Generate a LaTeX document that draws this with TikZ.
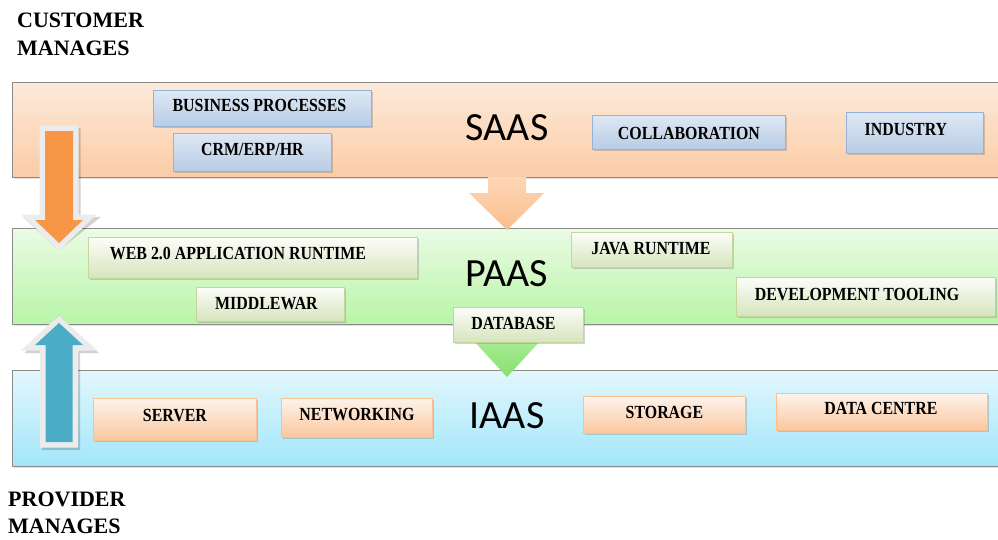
\documentclass[tikz,border=0pt]{standalone}
\usepackage{fontspec}
\setmainfont{Liberation Serif}
\newfontfamily\layerfont{Carlito}
\newfontfamily\boxfont[FakeStretch=0.86]{Liberation Serif}
\usetikzlibrary{shadows}

% layer band colours
\definecolor{saasTop}{RGB}{253,234,218}
\definecolor{saasBot}{RGB}{251,204,166}
\definecolor{paasTop}{RGB}{234,251,228}
\definecolor{paasBot}{RGB}{184,245,168}
\definecolor{iaasTop}{RGB}{226,247,253}
\definecolor{iaasBot}{RGB}{162,230,250}
% component box colours
\definecolor{blueTop}{RGB}{222,232,244}
\definecolor{blueBot}{RGB}{184,204,228}
\definecolor{blueEdge}{RGB}{149,179,215}
\definecolor{greenTop}{RGB}{252,253,248}
\definecolor{greenBot}{RGB}{214,228,188}
\definecolor{greenEdge}{RGB}{195,214,155}
\definecolor{peachTop}{RGB}{254,243,234}
\definecolor{peachBot}{RGB}{250,199,158}
\definecolor{peachEdge}{RGB}{250,192,144}
% block arrows
\definecolor{orangeArrow}{RGB}{247,150,70}
\definecolor{blueArrow}{RGB}{75,172,198}
\definecolor{flowTop}{RGB}{253,214,182}
\definecolor{flowBot}{RGB}{250,190,140}
\definecolor{dbTop}{RGB}{170,236,150}
\definecolor{dbBot}{RGB}{134,224,110}
\definecolor{rim}{RGB}{236,236,236}

\tikzset{
  band/.style={draw=black!45, line width=0.8pt, shading=axis, anchor=north west,
    inner sep=0pt, drop shadow={shadow xshift=1.5pt, shadow yshift=-1.5pt, opacity=0.25}},
  comp/.style={line width=0.9pt, shading=axis, anchor=north west, inner sep=0pt,
    drop shadow={shadow xshift=2pt, shadow yshift=-2pt, opacity=0.35}},
  sbox/.style={comp, draw=blueEdge, top color=blueTop, bottom color=blueBot},
  pbox/.style={comp, draw=greenEdge, top color=greenTop, bottom color=greenBot},
  ibox/.style={comp, draw=peachEdge, top color=peachTop, bottom color=peachBot},
  lbl/.style={font=\boxfont\fontsize{18.5}{20}\selectfont\bfseries, inner sep=0pt},
  layer/.style={font=\layerfont\fontsize{40}{44}\selectfont, inner sep=0pt},
  side/.style={font=\fontsize{22}{28}\selectfont\bfseries, inner sep=0pt, anchor=base west},
}

\begin{document}
\begin{tikzpicture}[x=1pt, y=-1pt]
\clip (0,0) rectangle (998,539);
\fill[white] (0,0) rectangle (998,539);

% ---- layer bands ----
\node[band, top color=saasTop, bottom color=saasBot, minimum width=995pt, minimum height=95pt] (saas) at (12,82) {};
\node[band, top color=paasTop, bottom color=paasBot, minimum width=995pt, minimum height=96pt] (paas) at (12,228) {};
\node[band, top color=iaasTop, bottom color=iaasBot, minimum width=995pt, minimum height=96pt] (iaas) at (12,370) {};

% ---- side captions ----
\node[side] (cust1) at (17,27) {CUSTOMER};
\node[side] (cust2) at (17,55) {MANAGES};
\node[side] (prov1) at (8,506) {PROVIDER};
\node[side] (prov2) at (8,533) {MANAGES};

% ---- layer titles ----
\node[layer] (tsaas) at (507,128) {SAAS};
\node[layer] (tpaas) at (507,274) {PAAS};
\node[layer] (tiaas) at (507,416) {IAAS};

% ---- flow arrow SAAS -> PAAS ----
\coordinate (fa) at (488,177);
\coordinate (fb) at (526,177);
\coordinate (ftip) at (507,230);
\path[shading=axis, top color=flowTop, bottom color=flowBot]
  (fa) -- (fb) -- (526,193) -- (544,193) -- (ftip) -- (469,193) -- (488,193) -- cycle;

% ---- pointer below DATABASE ----
\coordinate (dtip) at (507,377);
\path[shading=axis, top color=dbTop, bottom color=dbBot]
  (471,338) -- (543,338) -- (dtip) -- cycle;

% ---- SAAS components ----
\node[sbox, minimum width=218pt, minimum height=36pt] (bp) at (153,90) {};
\node[lbl] at ([shift={(-3,-3)}]bp.center) {BUSINESS PROCESSES};
\node[sbox, minimum width=158pt, minimum height=38pt] (crm) at (173,133) {};
\node[lbl] at ([shift={(0,-3)}]crm.center) {CRM/ERP/HR};
\node[sbox, minimum width=193pt, minimum height=34pt] (collab) at (592,115) {};
\node[lbl] at ([shift={(0,1)}]collab.center) {COLLABORATION};
\node[sbox, minimum width=137pt, minimum height=41pt] (ind) at (846,112) {};
\node[lbl] at ([shift={(-9,-3)}]ind.center) {INDUSTRY};

% ---- PAAS components ----
\node[pbox, minimum width=329pt, minimum height=41pt] (web) at (88,237) {};
\node[lbl] at ([shift={(-15,-4)}]web.center) {WEB 2.0 APPLICATION RUNTIME};
\node[pbox, minimum width=161pt, minimum height=35pt] (java) at (571,232) {};
\node[lbl] at ([shift={(-1,-1)}]java.center) {JAVA RUNTIME};
\node[pbox, minimum width=148pt, minimum height=34pt] (mid) at (196,287) {};
\node[lbl] at ([shift={(-4,-1)}]mid.center) {MIDDLEWAR};
\node[pbox, minimum width=259pt, minimum height=39pt] (dev) at (736,277) {};
\node[lbl] at ([shift={(-9,-2)}]dev.center) {DEVELOPMENT TOOLING};
\node[pbox, minimum width=130pt, minimum height=35pt] (db) at (453,307) {};
\node[lbl] at ([shift={(-5,-1)}]db.center) {DATABASE};

% ---- IAAS components ----
\node[ibox, minimum width=163pt, minimum height=42pt] (srv) at (93,398) {};
\node[lbl] at ([shift={(0,-4)}]srv.center) {SERVER};
\node[ibox, minimum width=151pt, minimum height=39pt] (net) at (281,398) {};
\node[lbl] at ([shift={(0,-3)}]net.center) {NETWORKING};
\node[ibox, minimum width=162pt, minimum height=37pt] (sto) at (583,396) {};
\node[lbl] at ([shift={(0,-2)}]sto.center) {STORAGE};
\node[ibox, minimum width=211pt, minimum height=37pt] (dc) at (776,393) {};
\node[lbl] at ([shift={(-1,-3)}]dc.center) {DATA CENTRE};

% ---- customer-managed arrow (down) ----
\coordinate (otip) at (59,243);
\def\custpath{(45,131) -- (73,131) -- (73,220) -- (83,220) -- (otip) -- (35,220) -- (45,220) -- cycle}
\draw[black, opacity=0.18, line width=11pt, line join=miter, shift={(2,2.5)}] \custpath;
\draw[rim, line width=11pt, line join=miter] \custpath;
\fill[orangeArrow] \custpath;

% ---- provider-managed arrow (up) ----
\coordinate (btip) at (59,323);
\def\provpath{(45.5,442) -- (72.5,442) -- (72.5,345) -- (83,345) -- (btip) -- (35,345) -- (45.5,345) -- cycle}
\draw[black, opacity=0.18, line width=11pt, line join=miter, shift={(2,2.5)}] \provpath;
\draw[rim, line width=11pt, line join=miter] \provpath;
\fill[blueArrow] \provpath;
\end{tikzpicture}
\end{document}
